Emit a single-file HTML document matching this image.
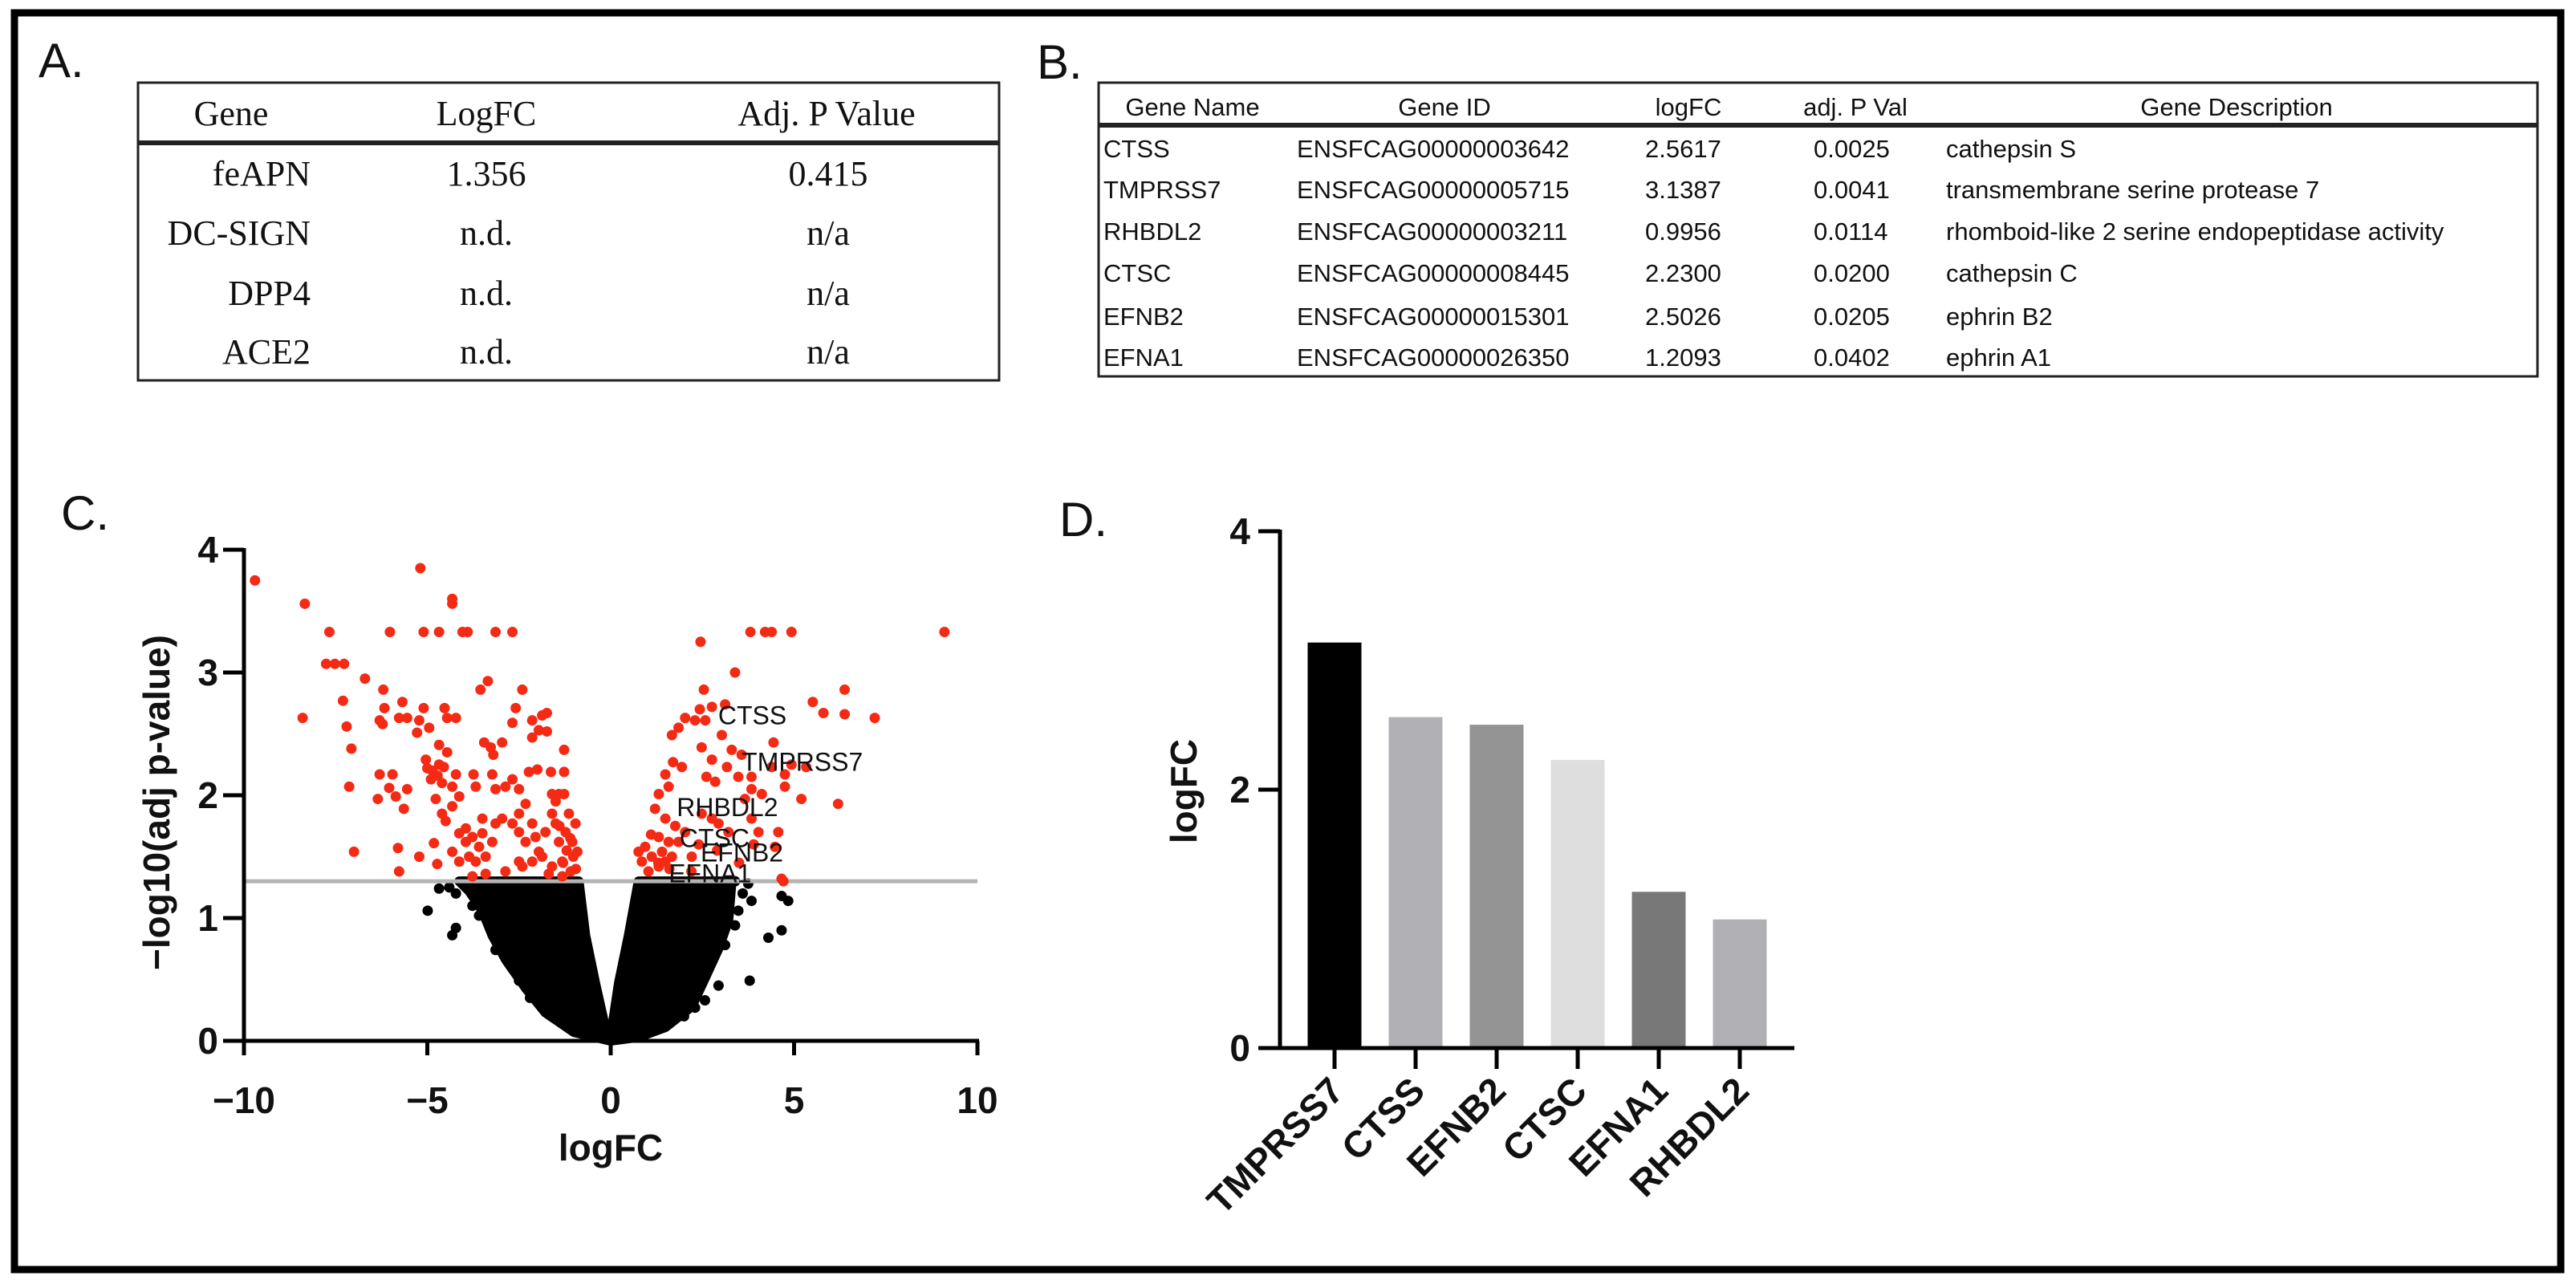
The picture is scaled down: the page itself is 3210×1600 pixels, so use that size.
<!DOCTYPE html>
<html><head><meta charset="utf-8"><style>
html,body{margin:0;padding:0;background:#fff;}
svg{display:block;}
.ser{font-family:"Liberation Serif",serif;font-size:44px;fill:#111;}
.sb{font-family:"Liberation Sans",sans-serif;font-size:31px;fill:#111;}
.lbl{font-family:"Liberation Sans",sans-serif;font-size:60px;fill:#111;}
.ax{font-family:"Liberation Sans",sans-serif;font-size:46px;font-weight:bold;fill:#111;}
.gl{font-family:"Liberation Sans",sans-serif;font-size:32px;fill:#111;}
</style></head><body>
<svg id="fig" width="3210" height="1600" viewBox="0 0 3210 1600" xmlns="http://www.w3.org/2000/svg">
<rect x="0" y="0" width="3210" height="1600" fill="#fff"/>
<rect x="18" y="16" width="3173" height="1566" fill="none" stroke="#000" stroke-width="9"/>

<!-- Panel A -->
<text class="lbl" x="48" y="96">A.</text>
<g>
<rect x="172" y="103" width="1073" height="371" fill="none" stroke="#222" stroke-width="3"/>
<line x1="172" y1="178" x2="1245" y2="178" stroke="#222" stroke-width="6"/>
<text class="ser" x="288" y="156" text-anchor="middle">Gene</text>
<text class="ser" x="606" y="156" text-anchor="middle">LogFC</text>
<text class="ser" x="1030" y="156" text-anchor="middle">Adj. P Value</text>
<text class="ser" x="387" y="231" text-anchor="end">feAPN</text>
<text class="ser" x="606" y="231" text-anchor="middle">1.356</text>
<text class="ser" x="1032" y="231" text-anchor="middle">0.415</text>
<text class="ser" x="387" y="305" text-anchor="end">DC-SIGN</text>
<text class="ser" x="606" y="305" text-anchor="middle">n.d.</text>
<text class="ser" x="1032" y="305" text-anchor="middle">n/a</text>
<text class="ser" x="387" y="380" text-anchor="end">DPP4</text>
<text class="ser" x="606" y="380" text-anchor="middle">n.d.</text>
<text class="ser" x="1032" y="380" text-anchor="middle">n/a</text>
<text class="ser" x="387" y="453" text-anchor="end">ACE2</text>
<text class="ser" x="606" y="453" text-anchor="middle">n.d.</text>
<text class="ser" x="1032" y="453" text-anchor="middle">n/a</text>
</g>

<!-- Panel B -->
<text class="lbl" x="1292" y="98">B.</text>
<g>
<rect x="1369" y="103" width="1793" height="366" fill="none" stroke="#222" stroke-width="3"/>
<line x1="1369" y1="156" x2="3162" y2="156" stroke="#222" stroke-width="6"/>
<text class="sb" x="1486" y="144" text-anchor="middle">Gene Name</text>
<text class="sb" x="1800" y="144" text-anchor="middle">Gene ID</text>
<text class="sb" x="2104" y="144" text-anchor="middle">logFC</text>
<text class="sb" x="2312" y="144" text-anchor="middle">adj. P Val</text>
<text class="sb" x="2787" y="144" text-anchor="middle">Gene Description</text>
<g id="tbrows"></g>
</g>

<!-- Panel C -->
<text class="lbl" x="76" y="660">C.</text>
<g id="volcano"></g>

<!-- Panel D -->
<text class="lbl" x="1320" y="668">D.</text>
<g id="bars"></g>
</svg>
<script>
// ---- Table B data ----
const tNames=["CTSS","TMPRSS7","RHBDL2","CTSC","EFNB2","EFNA1"];
const tIds=["ENSFCAG00000003642","ENSFCAG00000005715","ENSFCAG00000003211","ENSFCAG00000008445","ENSFCAG00000015301","ENSFCAG00000026350"];
const tFC=["2.5617","3.1387","0.9956","2.2300","2.5026","1.2093"];
const tP=["0.0025","0.0041","0.0114","0.0200","0.0205","0.0402"];
const tDesc=["cathepsin S","transmembrane serine protease 7","rhomboid-like 2 serine endopeptidase activity","cathepsin C","ephrin B2","ephrin A1"];

// ---- Volcano data (logFC, -log10 adj p) ----
const redX=[-9.7,-8.34,-8.4,-7.67,-7.76,-7.52,-7.27,-7.3,-7.2,-7.07,-7.13,-7.0,-6.7,-6.02,-6.2,-6.17,-6.3,-6.22,-5.68,-5.77,-5.55,-5.19,-5.1,-4.68,-4.32,-4.32,-4.04,-3.9,-3.14,-2.68,-3.35,-3.55,-2.41,-2.59,-4.53,-5.1,-5.22,-4.95,-4.46,-4.22,-5.28,-6.3,-5.95,-6.35,-6.04,-5.86,-5.55,-5.64,-5.8,-5.77,-5.22,-4.82,-4.73,-5.04,-4.86,-4.72,-4.68,-4.9,-4.6,-5.0,-4.55,-4.68,-4.46,-4.77,-4.6,-4.5,-4.32,-4.13,-4.22,-4.32,-3.95,-3.68,-3.74,-3.23,-3.14,-3.45,-3.27,-3.2,-2.96,-2.87,-2.68,-2.5,-2.23,-2.0,-2.68,-2.14,-1.87,-1.74,-2.14,-1.96,-1.74,-1.27,-1.63,-1.27,-4.13,-3.95,-3.77,-3.59,-3.86,-3.68,-3.41,-3.5,-3.23,-3.14,-2.96,-3.5,-4.13,-4.32,-3.77,-3.41,-2.87,-2.5,-2.5,-2.32,-2.14,-2.05,-2.32,-1.96,-1.78,-1.6,-1.5,-1.41,-1.32,-1.23,-1.14,-1.05,-1.02,-1.6,-1.87,-2.14,-2.5,-2.68,-2.41,-1.27,-1.41,-1.6,-1.09,-1.32,-1.69,-0.91,-0.96,-1.5,-1.2,-1.4,-1.1,-1.3,-0.95,
2.45,3.81,4.21,4.39,4.93,9.1,3.39,2.54,3.12,2.43,2.76,2.03,2.3,2.58,3.03,1.67,1.85,2.48,2.76,3.17,1.7,1.94,1.49,1.58,2.61,2.85,3.48,3.84,4.39,4.44,3.3,3.57,4.75,4.93,5.33,4.75,5.2,5.51,5.8,6.38,6.38,7.2,6.2,3.84,3.66,4.12,1.31,1.21,1.49,1.76,3.84,4.03,4.57,4.48,4.66,4.71,2.94,3.21,2.48,2.76,0.94,1.12,0.85,1.31,1.4,1.58,1.67,1.03,1.31,1.49,0.76,1.85,2.03,2.21,1.1,1.3,1.6,2.4,2.9,3.5,3.9,2.2];
const redY=[3.75,3.56,2.63,3.33,3.07,3.07,3.07,2.77,2.56,2.38,2.07,1.54,2.95,3.33,2.86,2.71,2.61,2.58,2.76,2.63,2.63,3.85,3.33,3.33,3.6,3.56,3.33,3.33,3.33,3.33,2.93,2.86,2.86,2.71,2.71,2.71,2.61,2.55,2.63,2.63,2.51,2.17,2.17,1.97,2.06,1.99,2.05,1.89,1.57,1.38,1.5,1.61,1.44,2.29,2.2,2.16,2.25,2.13,2.1,2.22,2.23,2.41,2.35,1.97,1.85,1.79,1.91,1.99,2.17,2.07,1.73,2.07,2.17,2.17,2.05,2.43,2.39,2.33,2.43,2.07,2.13,2.05,2.19,2.21,2.59,2.61,2.65,2.67,2.47,2.53,2.52,2.37,2.19,2.19,1.69,1.62,1.66,1.58,1.5,1.46,1.5,1.69,1.62,1.77,1.81,1.81,1.46,1.54,1.34,1.36,1.38,1.46,1.85,1.93,1.77,1.66,1.62,1.54,1.7,1.85,1.77,1.62,1.46,1.7,1.85,1.62,1.5,1.42,1.5,1.46,1.7,1.77,1.42,2.01,2.01,2.01,1.38,1.34,1.36,1.54,1.77,1.95,1.55,1.75,1.65,1.45,1.4,
3.25,3.33,3.33,3.33,3.33,3.33,3.0,2.86,2.74,2.7,2.72,2.63,2.61,2.61,2.49,2.49,2.55,2.39,2.29,2.23,2.27,2.23,2.17,2.07,2.15,2.11,2.15,2.15,2.23,2.43,2.37,2.33,2.17,2.25,2.23,2.07,1.97,2.76,2.67,2.86,2.66,2.63,1.93,2.05,1.97,2.01,2.01,1.89,1.81,1.75,1.81,1.7,1.7,1.58,1.32,1.3,1.77,1.7,1.85,1.81,1.58,1.5,1.46,1.66,1.54,1.62,1.5,1.38,1.42,1.46,1.54,1.62,1.7,1.5,1.68,1.45,1.4,1.6,1.55,1.45,1.6,1.38];
// black mass envelopes
const leftLobeX=[0,-1.0,-1.78,-2.32,-2.86,-3.23,-3.5,-3.86,-4.13,-0.87,-0.69,-0.42,-0.15];
const leftLobeY=[0,0.07,0.23,0.43,0.66,0.86,1.06,1.22,1.30,1.30,0.86,0.47,0.11];
const rightLobeX=[0,0.04,0.22,0.49,0.76,3.3,3.21,2.94,2.57,2.21,1.49,0.76];
const rightLobeY=[0,0.11,0.47,0.86,1.30,1.30,0.98,0.75,0.51,0.28,0.11,0.03];
const blackX=[-4.99,-4.68,-4.22,-4.32,-4.22,-3.77,-3.59,-3.14,-2.68,-2.5,3.79,2.94,2.3,4.3,4.66,4.84,4.66,3.84,3.48,3.39,3.12,3.75,2.57,3.39,3.6,-4.4,-2.2,2.0];
const blackY=[1.06,1.24,1.2,0.86,0.92,1.1,1.02,0.74,0.59,0.49,0.49,0.45,0.27,0.84,0.9,1.14,1.18,1.14,1.06,0.94,0.78,1.28,0.33,1.3,1.2,1.25,0.35,0.2];
const geneLabels=["CTSS","TMPRSS7","RHBDL2","CTSC","EFNB2","EFNA1"];
const geneLabelX=[2.93,3.57,1.8,1.88,2.45,1.58];
const geneLabelY=[2.58,2.2,1.83,1.58,1.46,1.29];
const vxTicks=[-10,-5,0,5,10];
const vyTicks=[0,1,2,3,4];
const threshold=1.3;

// ---- Bar data ----
const barCats=["TMPRSS7","CTSS","EFNB2","CTSC","EFNA1","RHBDL2"];
const barVals=[3.1387,2.5617,2.5026,2.23,1.2093,0.9956];
const barColors=["#000000","#b1b1b5","#949494","#dedede","#787878","#b1b1b5"];
const byTicks=[0,2,4];

const NS="http://www.w3.org/2000/svg";
function mk(tag,attrs,parent){const e=document.createElementNS(NS,tag);for(const k in attrs)e.setAttribute(k,attrs[k]);parent.appendChild(e);return e;}

// Table B rows
const tb=document.getElementById('tbrows');
const rowBase=[196,247,299,351,405,456];
for(let i=0;i<tNames.length;i++){
  const g=mk('g',{},tb);
  
  
  const cols=[[1375,tNames[i]],[1616,tIds[i]],[2050,tFC[i]],[2260,tP[i]],[2425,tDesc[i]]];
  cols.forEach(c=>{const t=mk('text',{class:'sb',x:c[0],y:rowBase[i]},g);t.textContent=c[1];});
}

// Volcano
const V=document.getElementById('volcano');
const vx=v=>761+v*45.7, vy=v=>1297-v*153;
function poly(xs,ys,name){
  const pts=xs.map((x,i)=>vx(x)+','+vy(ys[i])).join(' ');
  const p=mk('polygon',{points:pts,fill:'#000',stroke:'#000','stroke-width':12,'stroke-linejoin':'round'},V);
  
  
}
poly(leftLobeX,leftLobeY,'nonsig-points-left');
poly(rightLobeX,rightLobeY,'nonsig-points-right');
for(let i=0;i<blackX.length;i++){
  const c=mk('circle',{cx:vx(blackX[i]),cy:vy(blackY[i]),r:6.5,fill:'#000'},V);
  
  
}
const th=mk('line',{x1:vx(-10),x2:vx(10),y1:vy(threshold),y2:vy(threshold),stroke:'#b4b4b4','stroke-width':5},V);


for(let i=0;i<redX.length;i++){
  const c=mk('circle',{cx:vx(redX[i]),cy:vy(redY[i]),r:6.5,fill:'#f42a14'},V);
  
  
}
for(let i=0;i<geneLabels.length;i++){
  const t=mk('text',{class:'gl',x:vx(geneLabelX[i]),y:vy(geneLabelY[i])},V);
  
  
  t.textContent=geneLabels[i];
}
// axes
const vxa=mk('line',{x1:vx(-10),x2:vx(10)+2,y1:vy(0),y2:vy(0),stroke:'#000','stroke-width':5},V);


const vya=mk('line',{x1:vx(-10),x2:vx(-10),y1:vy(0)+2,y2:vy(4)-2,stroke:'#000','stroke-width':5},V);


vxTicks.forEach(v=>{
  mk('line',{x1:vx(v),x2:vx(v),y1:vy(0),y2:vy(0)+18,stroke:'#000','stroke-width':5},V);
  const t=mk('text',{class:'ax',x:vx(v),y:1387,'text-anchor':'middle'},V);
  
  
  t.textContent=(v<0?'\u2212'+(-v):''+v);
});
vyTicks.forEach(v=>{
  mk('line',{x1:vx(-10)-26,x2:vx(-10),y1:vy(v),y2:vy(v),stroke:'#000','stroke-width':5},V);
  const t=mk('text',{class:'ax',x:272,y:vy(v)+16,'text-anchor':'end'},V);
  
  
  t.textContent=v;
});
const vxt=mk('text',{class:'ax',x:vx(0),y:1446,'text-anchor':'middle'},V);


vxt.textContent='logFC';
const vyt=mk('text',{class:'ax',x:0,y:0,'text-anchor':'middle',transform:'translate(211,1000) rotate(-90)'},V);


vyt.textContent='\u2212log10(adj p-value)';

// Bars
const B=document.getElementById('bars');
const by=v=>1306-v*161, bx=i=>1663+i*101;
const bw=67;
for(let i=0;i<barCats.length;i++){
  const r=mk('rect',{x:bx(i)-bw/2,y:by(barVals[i]),width:bw,height:by(0)-by(barVals[i]),fill:barColors[i]},B);
  
  
  mk('line',{x1:bx(i),x2:bx(i),y1:by(0),y2:by(0)+26,stroke:'#000','stroke-width':5},B);
  const t=mk('text',{class:'ax',x:0,y:0,'text-anchor':'end',transform:'translate('+(bx(i)+14)+','+(by(0)+56)+') rotate(-45)'},B);
  
  
  t.textContent=barCats[i];
}
const bxa=mk('line',{x1:1568,x2:2236,y1:by(0),y2:by(0),stroke:'#000','stroke-width':5},B);


const bya=mk('line',{x1:1595,x2:1595,y1:by(0),y2:by(4)-2,stroke:'#000','stroke-width':5},B);


byTicks.forEach(v=>{
  mk('line',{x1:1568,x2:1595,y1:by(v),y2:by(v),stroke:'#000','stroke-width':5},B);
  const t=mk('text',{class:'ax',x:1558,y:by(v)+16,'text-anchor':'end'},B);
  
  
  t.textContent=v;
});
const byt=mk('text',{class:'ax',x:0,y:0,'text-anchor':'middle',transform:'translate(1491,986) rotate(-90)'},B);


byt.textContent='logFC';
</script>
</body></html>
